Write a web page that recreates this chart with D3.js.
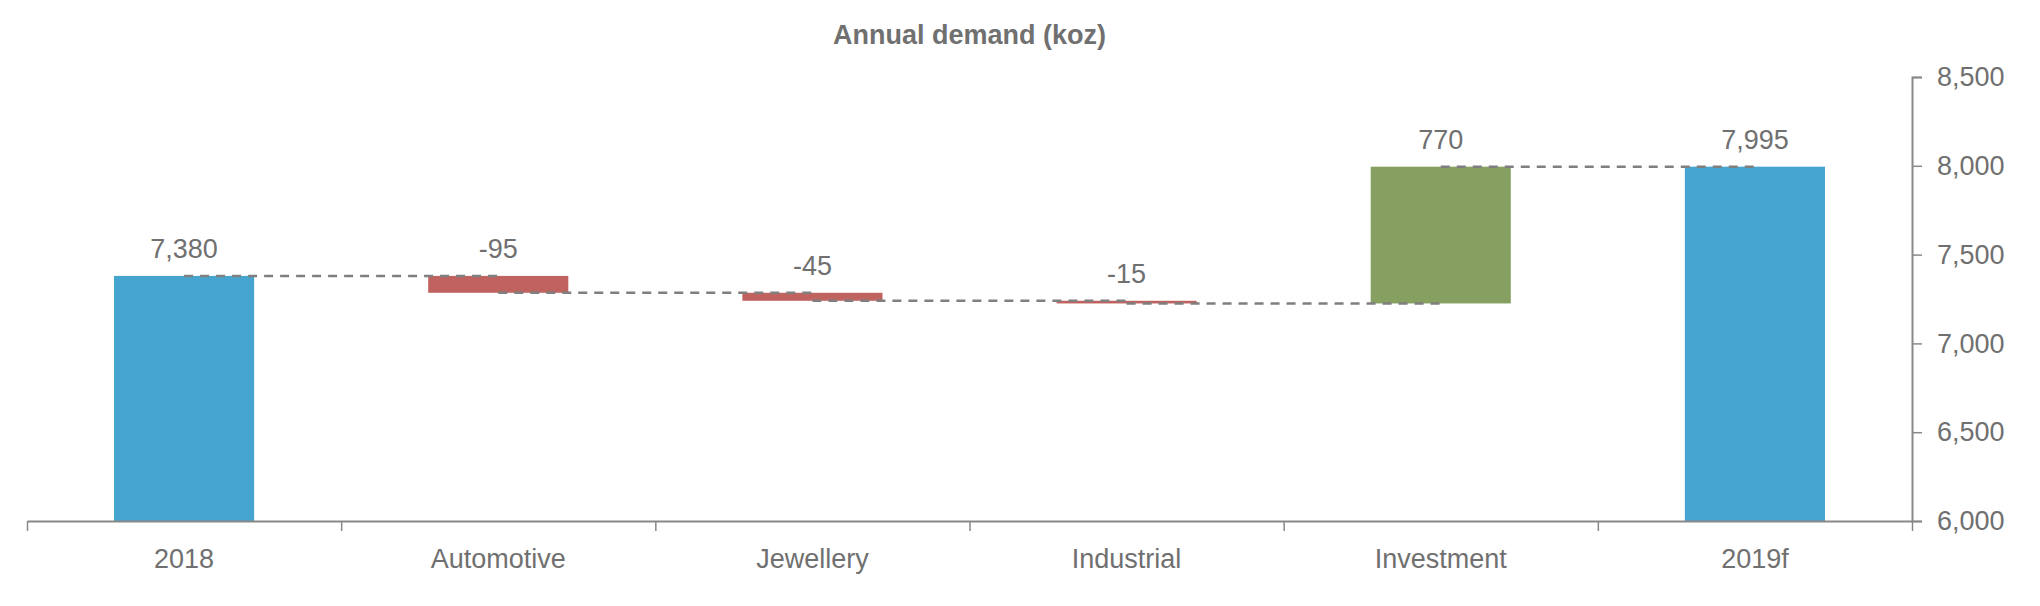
<!DOCTYPE html>
<html>
<head>
<meta charset="utf-8">
<script src="https://cdn.jsdelivr.net/npm/d3@7"></script>
<style>
  body { margin: 0; background: #fff; }
  svg text { font-family: "Liberation Sans", Arial, sans-serif; fill: #707070; }
</style>
</head>
<body>
<div id="chart"></div>
<script>
// chart data
var categories = ["2018", "Automotive", "Jewellery", "Industrial", "Investment", "2019f"];
var changes = [7380, -95, -45, -15, 770, 7995];
var kinds = ["total", "delta", "delta", "delta", "delta", "total"];
var valueLabels = ["7,380", "-95", "-45", "-15", "770", "7,995"];
var yTicks = [6000, 6500, 7000, 7500, 8000, 8500];

var colours = { total: "#46a5cf", up: "#86a062", down: "#c0625f" };
var axis_colour = "#888888";
var text_colour = "#707070";

var width = 2040, height = 606;
var plot = { left: 27, right: 1912, top: 77, bottom: 521 };

var svg = d3.select("#chart").append("svg")
  .attr("width", width)
  .attr("height", height);

var x = d3.scaleBand().domain(categories).range([plot.left, plot.right]).paddingInner(0.554).paddingOuter(0.277);
var xb = d3.scaleLinear().domain([0, categories.length]).range([plot.left, plot.right]);
var y = d3.scaleLinear().domain([6000, 8500]).range([plot.bottom, plot.top]);

// build waterfall steps
var running = 0;
var steps = categories.map(function(c, i) {
  var start, end;
  if (kinds[i] == "total") {
    start = 6000; end = changes[i]; running = changes[i];
  } else {
    start = running; end = running + changes[i]; running = end;
  }
  return { cat: c, start: start, end: end, level: running, kind: kinds[i], value: changes[i], label: valueLabels[i] };
});

// bars
svg.selectAll("rect.bar")
  .data(steps)
  .enter().append("rect")
  .attr("class", "bar")
  .attr("x", function(d) { return x(d.cat); })
  .attr("width", x.bandwidth())
  .attr("y", function(d) { return y(Math.max(d.start, d.end)); })
  .attr("height", function(d) { return Math.max(1.5, Math.abs(y(d.start) - y(d.end))); })
  .attr("fill", function(d) {
    if (d.kind == "total") return colours.total;
    return d.value >= 0 ? colours.up : colours.down;
  });

// dashed connectors between bar centres
var links = steps.slice(0, -1).map(function(d, i) {
  return { from: d.cat, to: steps[i + 1].cat, level: d.level };
});
svg.selectAll("line.link")
  .data(links)
  .enter().append("line")
  .attr("class", "link")
  .attr("x1", function(d) { return x(d.from) + x.bandwidth() / 2; })
  .attr("x2", function(d) { return x(d.to) + x.bandwidth() / 2; })
  .attr("y1", function(d) { return y(d.level); })
  .attr("y2", function(d) { return y(d.level); })
  .attr("stroke", "#7f7f7f")
  .attr("stroke-width", 2.5)
  .attr("stroke-dasharray", "9,7");

// value labels
svg.selectAll("text.val")
  .data(steps)
  .enter().append("text")
  .attr("class", "val")
  .attr("x", function(d) { return x(d.cat) + x.bandwidth() / 2; })
  .attr("y", function(d) { return y(Math.max(d.start, d.end)) - 18; })
  .attr("text-anchor", "middle")
  .style("font-size", "27px")
  .text(function(d) { return d.label; });

// x axis: boundary ticks
var xTickAxis = svg.append("g")
  .attr("transform", "translate(0," + plot.bottom + ")")
  .call(d3.axisBottom(xb).tickValues(d3.range(categories.length + 1)).tickSize(10).tickSizeOuter(0).tickFormat(""));
xTickAxis.select(".domain").attr("stroke", axis_colour).attr("stroke-width", 2);
xTickAxis.selectAll(".tick line").attr("stroke", axis_colour).attr("stroke-width", 1.5);

// x axis labels
var xLabelAxis = svg.append("g")
  .attr("transform", "translate(0," + plot.bottom + ")")
  .call(d3.axisBottom(x).tickSize(0).tickPadding(28));
xLabelAxis.select(".domain").remove();
xLabelAxis.selectAll("text")
  .style("font-size", "27px")
  .style("font-family", "'Liberation Sans', Arial, sans-serif")
  .attr("fill", text_colour);

// y axis on the right
var yAxis = svg.append("g")
  .attr("transform", "translate(" + plot.right + ",0)")
  .call(d3.axisRight(y).tickValues(yTicks).tickSize(10).tickSizeOuter(10).tickPadding(15).tickFormat(d3.format(",")));
yAxis.select(".domain").attr("stroke", axis_colour).attr("stroke-width", 2);
yAxis.selectAll(".tick line").attr("stroke", axis_colour).attr("stroke-width", 1.5);
yAxis.selectAll("text")
  .style("font-size", "27px")
  .style("font-family", "'Liberation Sans', Arial, sans-serif")
  .attr("fill", text_colour);

// title
svg.append("text")
  .attr("x", (plot.left + plot.right) / 2)
  .attr("y", 44)
  .attr("text-anchor", "middle")
  .style("font-size", "27px")
  .style("font-weight", "bold")
  .text("Annual demand (koz)");
</script>
</body>
</html>
